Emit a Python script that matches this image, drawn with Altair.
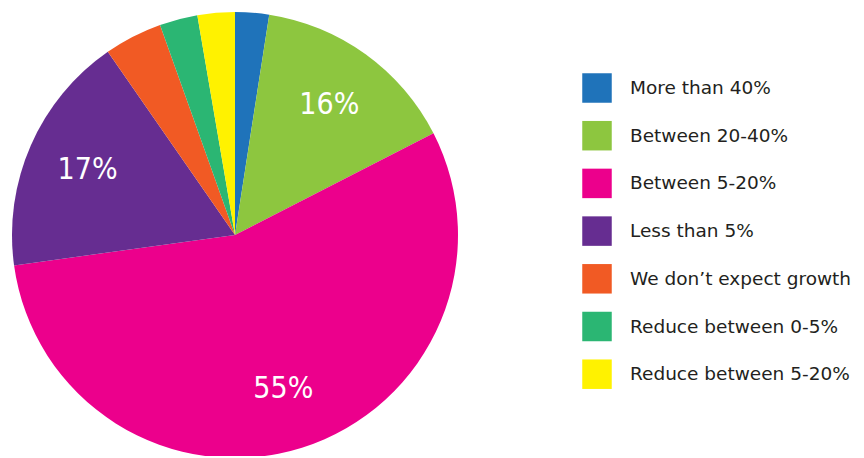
import altair as alt
import pandas as pd

categories = ["More than 40%", "Between 20-40%", "Between 5-20%", "Less than 5%",
              "We don\u2019t expect growth", "Reduce between 0-5%", "Reduce between 5-20%"]
values = [2.45, 15.0, 55.3, 17.5, 4.2, 2.75, 2.7]
labels = ["", "16%", "55%", "17%", "", "", ""]
colors = ["#1F73BA", "#8DC63F", "#EC008C", "#662D91", "#F15A24", "#2BB673", "#FFF200"]

df = pd.DataFrame({"cat": categories, "value": values, "label": labels,
                   "idx": list(range(len(categories)))})

CX, CY, R = 227, 227, 223

base = alt.Chart(df).encode(
    theta=alt.Theta("value:Q", stack=True),
    order=alt.Order("idx:Q"),
)

pie = base.mark_arc(outerRadius=R, stroke=None).encode(
    x=alt.value(CX), y=alt.value(CY),
    color=alt.Color("cat:N", scale=alt.Scale(domain=categories, range=colors),
                    sort=categories,
                    legend=alt.Legend(title=None, orient="none", legendX=574, legendY=65,
                                      symbolType="square", symbolSize=870,
                                      symbolStrokeWidth=0, symbolOpacity=1,
                                      labelFontSize=18.5, labelFont="DejaVu Sans",
                                      labelColor="#231F20", labelOffset=18,
                                      rowPadding=17.7, labelLimit=400)),
)

text = base.mark_text(radius=161, font="DejaVu Sans Condensed, Roboto", fontSize=30,
                      fontWeight=500, color="white", align="center",
                      baseline="middle").encode(
    x=alt.value(CX), y=alt.value(CY),
    text="label:N",
)

chart = alt.layer(pie, text).properties(
    width=848, height=448, padding=0,
    autosize=alt.AutoSizeParams(type="none"),
).configure_view(stroke=None)

chart.save("out.html", embed_options={"renderer": "svg", "actions": False})
